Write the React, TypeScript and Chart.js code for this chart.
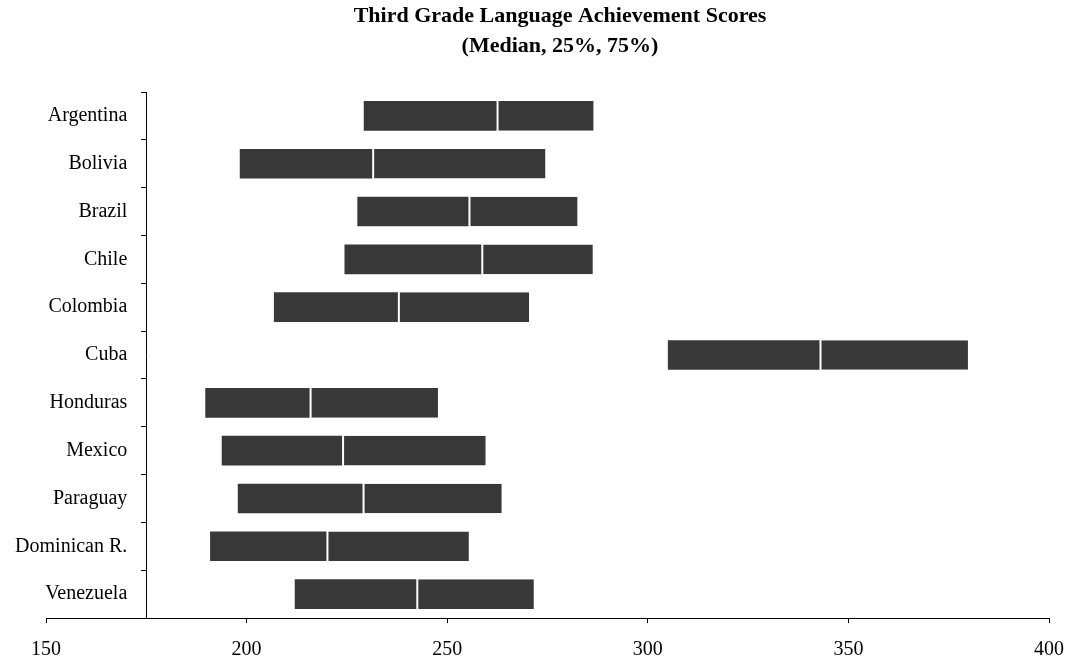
import React, { useEffect, useRef } from "react";
import { Chart, registerables } from "chart.js";

Chart.register(...registerables);

const categories = [
  "Argentina",
  "Bolivia",
  "Brazil",
  "Chile",
  "Colombia",
  "Cuba",
  "Honduras",
  "Mexico",
  "Paraguay",
  "Dominican R.",
  "Venezuela",
];
const p25 = [229.2, 198.3, 227.6, 224.4, 206.8, 305.0, 189.7, 193.8, 197.8, 190.9, 212.0];
const median = [262.3, 231.3, 255.3, 258.5, 237.7, 342.8, 215.7, 223.8, 228.9, 219.9, 242.3];
const p75 = [286.5, 274.5, 282.5, 286.3, 270.4, 379.8, 247.7, 259.6, 263.6, 255.4, 271.6];
const xTicks = [150, 200, 250, 300, 350, 400];
const yAxisCrossing = 175;

const FONT = "'Liberation Serif', 'Times New Roman', serif";
const Y_LABEL_GAP = 19;
const TITLE_SHIFT = 12;

const layoutTweaks = {
  id: "layoutTweaks",
  afterLayout(chart: any) {
    const tb = chart.titleBlock;
    if (tb) {
      tb.left += TITLE_SHIFT;
      tb.right += TITLE_SHIFT;
    }
  },
  beforeDraw(chart: any) {
    const yScale = chart.scales.y;
    const x0 = chart.scales.x.getPixelForValue(yAxisCrossing);
    const items = yScale.getLabelItems();
    items.forEach((it: any) => {
      const opts = it.options || it;
      if (opts.translation) opts.translation[0] = x0 - Y_LABEL_GAP;
      opts.textAlign = "right";
    });
  },
};

export default function App() {
  const ref = useRef<HTMLCanvasElement | null>(null);
  useEffect(() => {
    if (!ref.current) return;
    const barColor = "#383838";
    const chart = new Chart(ref.current, {
      type: "bar",
      data: {
        labels: categories,
        datasets: [
          {
            label: "25% - Median",
            data: categories.map((_, i) => [p25[i], median[i]]),
            backgroundColor: barColor,
            borderWidth: 0,
            grouped: false,
            barPercentage: 0.62,
            categoryPercentage: 1,
          } as any,
          {
            label: "Median - 75%",
            data: categories.map((_, i) => [median[i], p75[i]]),
            backgroundColor: barColor,
            borderColor: "#ffffff",
            borderWidth: { left: 2, right: 0, top: 0, bottom: 0 },
            borderSkipped: false,
            grouped: false,
            barPercentage: 0.62,
            categoryPercentage: 1,
          } as any,
        ],
      },
      plugins: [layoutTweaks],
      options: {
        indexAxis: "y",
        animation: false,
        responsive: true,
        maintainAspectRatio: false,
        layout: { padding: { left: 46, right: 20, top: 0, bottom: -19 } },
        plugins: {
          legend: { display: false },
          tooltip: { enabled: false },
          title: {
            display: true,
            text: ["Third Grade Language Achievement Scores", "(Median, 25%, 75%)"],
            color: "#000",
            font: { family: FONT, size: 22, weight: "bold", lineHeight: 30 / 22 },
            padding: { top: 1, bottom: 31 },
          },
        },
        scales: {
          x: {
            type: "linear",
            min: xTicks[0],
            max: xTicks[xTicks.length - 1],
            afterBuildTicks: (axis: any) => {
              axis.ticks = xTicks.map((v) => ({ value: v }));
            },
            grid: {
              drawOnChartArea: false,
              drawTicks: true,
              tickLength: 5,
              color: "#000",
            },
            border: { display: true, color: "#000", width: 1 },
            ticks: {
              color: "#000",
              padding: 6,
              font: { family: FONT, size: 20, lineHeight: 42 / 20 },
            },
          },
          y: {
            type: "category",
            position: { x: yAxisCrossing } as any,
            offset: true,
            grid: {
              drawOnChartArea: false,
              drawTicks: true,
              tickLength: 5,
              color: "#000",
              offset: true,
            },
            border: { display: true, color: "#000", width: 1 },
            ticks: {
              color: "#000",
              padding: 0,
              autoSkip: false,
              font: { family: FONT, size: 20 },
            },
          },
        },
      },
    });
    return () => chart.destroy();
  }, []);
  return (
    <div style={{ position: "absolute", left: 0, top: 0, width: 1070, height: 658, background: "#fff", overflow: "hidden" }}>
      <canvas ref={ref} />
    </div>
  );
}
